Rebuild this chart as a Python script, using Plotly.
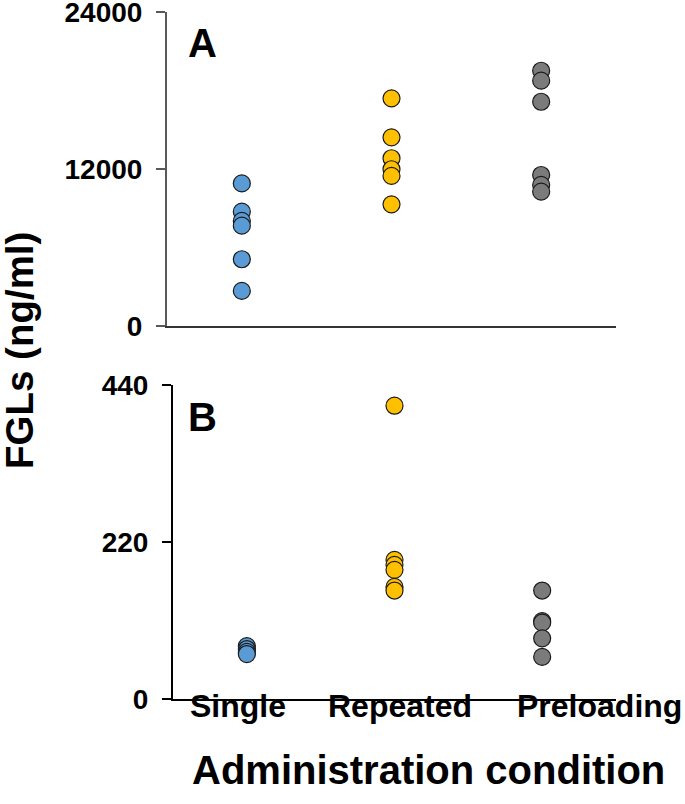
import plotly.graph_objects as go

categories = ["Single", "Repeated", "Preloading"]

# Panel A values (ng/ml)
a_single = [10900, 8740, 8030, 7670, 5100, 2680]
a_repeated = [17400, 14420, 12820, 11980, 11470, 9300]
a_preloading = [19510, 18750, 17140, 11540, 10780, 10270]

# Panel B values (ng/ml)
b_single = [74, 70, 66, 63]
b_repeated = [411, 195, 188, 181, 157, 152]
b_preloading = [152, 109, 107, 85, 59]

a_ticks = [0, 12000, 24000]
b_ticks = [0, 220, 440]

colors = ["#5B9BD5", "#FFC000", "#7B7B7B"]

W, H = 685, 804
def px(x):
    return x / W
def py(y):
    return 1 - y / H

fig = go.Figure()

panelA = [a_single, a_repeated, a_preloading]
panelB = [b_single, b_repeated, b_preloading]

for cat, vals, col in zip(categories, panelA, colors):
    fig.add_trace(go.Scatter(
        x=[cat] * len(vals), y=vals, mode="markers",
        marker=dict(size=17, color=col, line=dict(color="#1a1a1a", width=1.2)),
        xaxis="x", yaxis="y", showlegend=False, cliponaxis=False))

for cat, vals, col in zip(categories, panelB, colors):
    fig.add_trace(go.Scatter(
        x=[cat] * len(vals), y=vals, mode="markers",
        marker=dict(size=17, color=col, line=dict(color="#1a1a1a", width=1.2)),
        xaxis="x2", yaxis="y2", showlegend=False, cliponaxis=False))

FONT = "Liberation Sans, Arial, sans-serif"
tickfont = dict(family=FONT, size=28, color="black", weight="bold")

fig.update_layout(
    template="none",
    width=W, height=H,
    margin=dict(l=0, r=0, t=0, b=0, autoexpand=False),
    paper_bgcolor="white", plot_bgcolor="white",
    xaxis=dict(domain=[px(167), px(616)], anchor="y", type="category",
               categoryorder="array", categoryarray=categories, automargin=False,
               range=[-0.5, 2.5], showticklabels=False, ticks="",
               showline=True, linecolor="#333333", linewidth=2, showgrid=False, zeroline=False),
    yaxis=dict(domain=[py(326), py(12)], anchor="x", range=[0, 24000], automargin=False,
               tickvals=a_ticks, ticktext=[str(t) for t in a_ticks],
               ticks="outside", ticklen=9, tickwidth=2, tickcolor="#595959",
               showline=True, linecolor="#595959", linewidth=2, showgrid=False,
               zeroline=False, tickfont=tickfont, ticklabelstandoff=8,
               ticklabeloverflow="allow"),
    xaxis2=dict(domain=[px(173), px(616)], anchor="y2", type="category",
                categoryorder="array", categoryarray=categories, automargin=False,
                range=[-0.5, 2.5], showticklabels=False, ticks="",
                showline=True, linecolor="black", linewidth=2, showgrid=False, zeroline=False),
    yaxis2=dict(domain=[py(699), py(385)], anchor="x2", range=[0, 440], automargin=False,
                tickvals=b_ticks, ticktext=[str(t) for t in b_ticks],
                ticks="outside", ticklen=9, tickwidth=2, tickcolor="black",
                showline=True, linecolor="black", linewidth=2, showgrid=False,
                zeroline=False, tickfont=tickfont, ticklabelstandoff=8,
                ticklabeloverflow="allow"),
)

label_font = dict(family=FONT, size=32, color="black", weight="bold")
label_shift = [-0.06, 0.04, 0.39]
for i, (cat, sh) in enumerate(zip(categories, label_shift)):
    fig.add_annotation(text=cat, x=i + sh, xref="x2", y=py(706), yref="paper",
                       showarrow=False, font=label_font, xanchor="center", yanchor="middle")

fig.add_annotation(text="Administration condition", x=px(428), y=py(770), xref="paper", yref="paper",
                   showarrow=False, xanchor="center", yanchor="middle",
                   font=dict(family=FONT, size=40, color="black", weight="bold"))
fig.add_annotation(text="FGLs (ng/ml)", x=px(19), y=py(351), xref="paper", yref="paper",
                   showarrow=False, textangle=-90, xanchor="center", yanchor="middle",
                   font=dict(family=FONT, size=38.5, color="black", weight="bold"))
fig.add_annotation(text="A", x=px(202), y=py(43), xref="paper", yref="paper",
                   showarrow=False, xanchor="center", yanchor="middle",
                   font=dict(family=FONT, size=40, color="black", weight="bold"))
fig.add_annotation(text="B", x=px(202), y=py(417), xref="paper", yref="paper",
                   showarrow=False, xanchor="center", yanchor="middle",
                   font=dict(family=FONT, size=40, color="black", weight="bold"))

fig.write_html("out.html", config={"displayModeBar": False},
               post_script="document.body.style.margin='0px';")
